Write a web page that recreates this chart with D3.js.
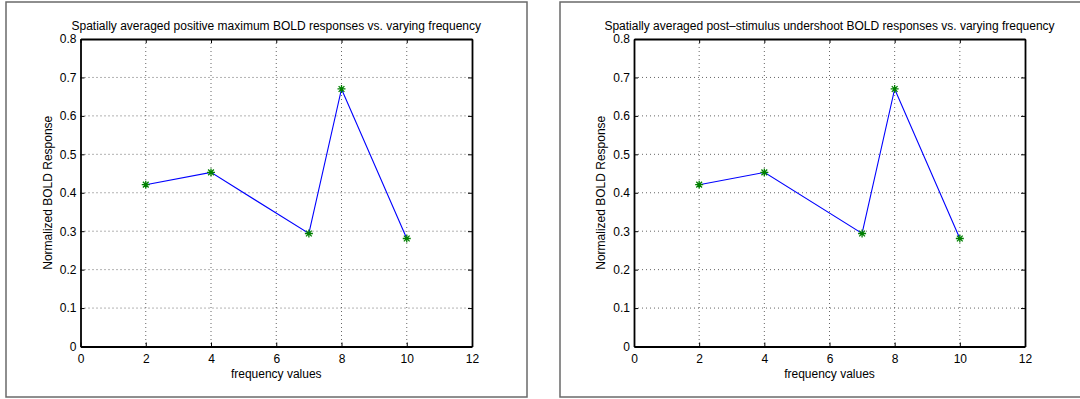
<!DOCTYPE html>
<html>
<head>
<meta charset="utf-8">
<script src="https://cdn.jsdelivr.net/npm/d3@7"></script>
<style>
  body { margin: 0; background: #fff; }
  text { font-family: "Liberation Sans", Arial, sans-serif; fill: #000; }
</style>
</head>
<body>
<div class="graphContainer"></div>
<script>
// Data
const freqs = [2, 4, 7, 8, 10];
const maxResponse = [0.421, 0.453, 0.294, 0.670, 0.281];
const undershootResponse = [0.421, 0.453, 0.294, 0.670, 0.281];
const xTicks = [0, 2, 4, 6, 8, 10, 12];
const yTicks = [0, 0.1, 0.2, 0.3, 0.4, 0.5, 0.6, 0.7, 0.8];
const titles = [
  "Spatially averaged positive maximum BOLD responses vs. varying frequency",
  "Spatially averaged post\u2013stimulus undershoot BOLD responses vs. varying frequency"
];

// Canvas size
const w = 1080;
const h = 399;
const fontSize = "12px";

const svg = d3.select(".graphContainer").append("svg")
  .attr("width", w)
  .attr("height", h);

// MATLAB style '*' marker (plus + cross) as a d3 symbol type
const matlabStar = {
  draw(ctx, size) {
    const r = Math.sqrt(size) / 2;
    const d = r * 0.72;
    ctx.moveTo(-r, 0); ctx.lineTo(r, 0);
    ctx.moveTo(0, -r); ctx.lineTo(0, r);
    ctx.moveTo(-d, -d); ctx.lineTo(d, d);
    ctx.moveTo(-d, d); ctx.lineTo(d, -d);
  }
};

// panel frames: outer box and axes box
const panels = [
  { box: [6, 527], plot: [80.5, 472], values: maxResponse, title: titles[0] },
  { box: [560, 1095], plot: [634, 1025], values: undershootResponse, title: titles[1] }
];
const plotTop = 39;
const plotBottom = 346.5;

panels.forEach(pn => {
  const g = svg.append("g");

  g.append("rect")
    .attr("x", pn.box[0])
    .attr("y", 2)
    .attr("width", pn.box[1] - pn.box[0])
    .attr("height", 395)
    .attr("fill", "#fff")
    .attr("stroke", "#6a6a6a")
    .attr("stroke-width", 1.5);

  const xScale = d3.scaleLinear().domain([0, 12]).range(pn.plot);
  const yScale = d3.scaleLinear().domain([0, 0.8]).range([plotBottom, plotTop]);

  // dotted grid
  g.append("g").selectAll("line")
    .data(xTicks.slice(1, -1))
    .join("line")
    .attr("x1", d => xScale(d)).attr("x2", d => xScale(d))
    .attr("y1", plotTop).attr("y2", plotBottom)
    .attr("stroke", "#666")
    .attr("stroke-width", 1)
    .attr("stroke-dasharray", "1,3");

  g.append("g").selectAll("line")
    .data(yTicks.slice(1, -1))
    .join("line")
    .attr("x1", pn.plot[0]).attr("x2", pn.plot[1])
    .attr("y1", d => yScale(d)).attr("y2", d => yScale(d))
    .attr("stroke", "#666")
    .attr("stroke-width", 1)
    .attr("stroke-dasharray", "1,3");

  // axes, ticks pointing inward on all four sides
  const fmt = d => d === 0 ? "0" : d3.format(".1f")(d);

  const xAxis = g.append("g")
    .attr("transform", "translate(0," + plotBottom + ")")
    .call(d3.axisBottom(xScale).tickValues(xTicks).tickSizeInner(-4).tickSizeOuter(0).tickPadding(8));
  const yAxis = g.append("g")
    .attr("transform", "translate(" + pn.plot[0] + ",0)")
    .call(d3.axisLeft(yScale).tickValues(yTicks).tickFormat(fmt).tickSizeInner(-4).tickSizeOuter(0).tickPadding(4));
  const tAxis = g.append("g")
    .attr("transform", "translate(0," + plotTop + ")")
    .call(d3.axisTop(xScale).tickValues(xTicks).tickSizeInner(-4).tickSizeOuter(0).tickFormat(""));
  const rAxis = g.append("g")
    .attr("transform", "translate(" + pn.plot[1] + ",0)")
    .call(d3.axisRight(yScale).tickValues(yTicks).tickSizeInner(-4).tickSizeOuter(0).tickFormat(""));

  [xAxis, yAxis, tAxis, rAxis].forEach(a => {
    a.select(".domain").attr("stroke", "#000").attr("stroke-width", 1.8);
    a.selectAll(".tick line").attr("stroke", "#000");
    a.selectAll("text")
      .style("font-family", "'Liberation Sans', Arial, sans-serif")
      .style("font-size", fontSize)
      .attr("fill", "#000");
  });

  // data line and markers
  const pts = freqs.map((f, i) => [f, pn.values[i]]);
  g.append("path")
    .datum(pts)
    .attr("fill", "none")
    .attr("stroke", "#0000ff")
    .attr("stroke-width", 1.1)
    .attr("d", d3.line().x(d => xScale(d[0])).y(d => yScale(d[1])));

  g.append("g").selectAll("path")
    .data(pts)
    .join("path")
    .attr("transform", d => "translate(" + xScale(d[0]) + "," + yScale(d[1]) + ")")
    .attr("d", d3.symbol(matlabStar, 64))
    .attr("fill", "none")
    .attr("stroke", "#008000")
    .attr("stroke-width", 1.3);

  // title and axis labels
  const cx = (pn.plot[0] + pn.plot[1]) / 2;
  g.append("text")
    .attr("x", cx)
    .attr("y", 30)
    .attr("text-anchor", "middle")
    .style("font-size", fontSize)
    .text(pn.title);

  g.append("text")
    .attr("x", cx)
    .attr("y", 378)
    .attr("text-anchor", "middle")
    .style("font-size", fontSize)
    .text("frequency values");

  g.append("text")
    .attr("transform", "translate(" + (pn.plot[0] - 29) + "," + ((plotTop + plotBottom) / 2) + ") rotate(-90)")
    .attr("text-anchor", "middle")
    .style("font-size", fontSize)
    .text("Normalized BOLD Response");
});
</script>
</body>
</html>
